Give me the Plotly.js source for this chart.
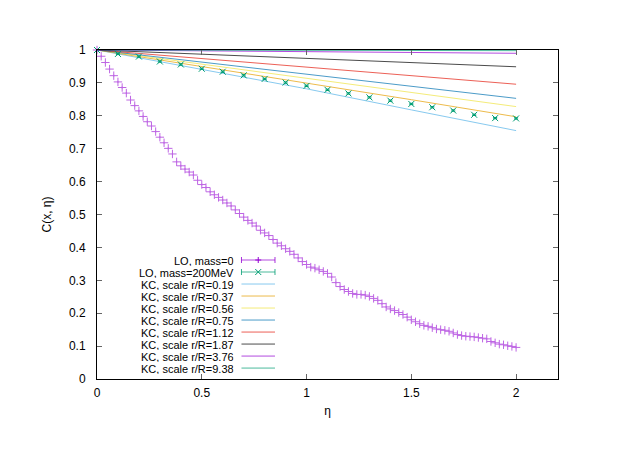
<!DOCTYPE html>
<html>
<head>
<meta charset="utf-8">
<script src="https://cdn.plot.ly/plotly-3.0.1.min.js"></script>
<style>body{margin:0;background:#fff}</style>
</head>
<body>
<div id="chart" style="width:635px;height:449px;"></div>
<script>
// LO, mass=0 : every 0.02 in eta
const etaLO0 = [0.00,0.02,0.04,0.06,0.08,0.10,0.12,0.14,0.16,0.18,
  0.20,0.22,0.24,0.26,0.28,0.30,0.32,0.34,0.36,0.38,
  0.40,0.42,0.44,0.46,0.48,0.50,0.52,0.54,0.56,0.58,
  0.60,0.62,0.64,0.66,0.68,0.70,0.72,0.74,0.76,0.78,
  0.80,0.82,0.84,0.86,0.88,0.90,0.92,0.94,0.96,0.98,
  1.00,1.02,1.04,1.06,1.08,1.10,1.12,1.14,1.16,1.18,
  1.20,1.22,1.24,1.26,1.28,1.30,1.32,1.34,1.36,1.38,
  1.40,1.42,1.44,1.46,1.48,1.50,1.52,1.54,1.56,1.58,
  1.60,1.62,1.64,1.66,1.68,1.70,1.72,1.74,1.76,1.78,
  1.80,1.82,1.84,1.86,1.88,1.90,1.92,1.94,1.96,1.98,2.00];
const cLO0 = [1.000,0.981,0.962,0.942,0.922,0.903,0.886,0.869,0.848,0.831,
  0.815,0.798,0.782,0.769,0.752,0.735,0.718,0.701,0.684,0.660,
  0.648,0.638,0.629,0.620,0.604,0.591,0.582,0.569,0.560,0.552,
  0.544,0.535,0.526,0.514,0.503,0.492,0.482,0.474,0.465,0.452,
  0.444,0.436,0.424,0.413,0.405,0.396,0.388,0.379,0.368,0.357,
  0.348,0.340,0.337,0.332,0.327,0.321,0.310,0.293,0.281,0.272,
  0.266,0.260,0.257,0.257,0.255,0.251,0.245,0.239,0.229,0.219,
  0.213,0.208,0.202,0.196,0.188,0.180,0.174,0.168,0.163,0.160,
  0.156,0.152,0.150,0.148,0.145,0.140,0.135,0.132,0.130,0.129,
  0.128,0.126,0.124,0.122,0.114,0.110,0.106,0.104,0.101,0.099,0.096];

// LO, mass=200MeV
const etaLO200 = [0,0.1,0.2,0.3,0.4,0.5,0.6,0.7,0.8,0.9,1.0,1.1,1.2,1.3,1.4,1.5,1.6,1.7,1.8,1.9,2.0];
const cLO200 = [1.000,0.988,0.980,0.965,0.956,0.943,0.934,0.923,0.912,0.901,
  0.891,0.879,0.868,0.856,0.846,0.836,0.826,0.816,0.803,0.793,0.792];

// KC curves
const etaKC = [0, 0.5, 1, 1.5, 2];
const kcScales = ['0.19','0.37','0.56','0.75','1.12','1.87','3.76','9.38'];
const kcValues = [
  [1, 0.940, 0.882, 0.818, 0.755],
  [1, 0.950, 0.900, 0.849, 0.797],
  [1, 0.957, 0.914, 0.871, 0.828],
  [1, 0.963, 0.927, 0.890, 0.853],
  [1, 0.974, 0.948, 0.922, 0.896],
  [1, 0.987, 0.975, 0.962, 0.949],
  [1, 0.998, 0.995, 0.993, 0.990],
  [1, 1.000, 0.999, 0.999, 0.998]
];
const kcColors = ['#56b4e9','#e69f00','#f0e442','#0072b2','#e51e10','#000000','#9400d3','#009e73'];

const purple = '#9400d3';
const green = '#009e73';

let data = [];
kcValues.forEach((vals, i) => {
  data.push({
    x: etaKC, y: vals, type: 'scatter', mode: 'lines',
    line: {color: kcColors[i], width: 1}, opacity: 0.7,
    name: 'KC, scale r/R=' + kcScales[i], hoverinfo: 'skip'
  });
});
data.push({
  x: etaLO200, y: cLO200, type: 'scatter', mode: 'markers',
  marker: {symbol: 'x-thin-open', size: 6, color: green, line: {color: green, width: 1}},
  error_y: {type: 'constant', value: 0.002, color: green, thickness: 1, width: 2},
  cliponaxis: false, name: 'LO, mass=200MeV'
});
data.push({
  x: etaLO0, y: cLO0, type: 'scatter', mode: 'markers',
  marker: {symbol: 'cross-thin-open', size: 6, color: purple, line: {color: purple, width: 1}},
  error_y: {type: 'constant', value: 0.003, color: purple, thickness: 1, width: 0},
  opacity: 0.6, cliponaxis: false, name: 'LO, mass=0'
});

// hand-made gnuplot style key (text to the left of the sample)
const keyLabels = ['LO, mass=0', 'LO, mass=200MeV'].concat(kcScales.map(s => 'KC, scale r/R=' + s));
const keyColors = [purple, green].concat(kcColors);
const keyTop = 0.3617, keyStep = 0.0365;
const keyTextX = 0.2983, keyX0 = 0.3134, keyX1 = 0.3861;

let annotations = [];
let shapes = [];
keyLabels.forEach((lab, i) => {
  const y = keyTop - i * keyStep;
  annotations.push({
    xref: 'paper', yref: 'paper', x: keyTextX, y: y, text: lab, showarrow: false,
    xanchor: 'right', yanchor: 'middle', height: 11, borderpad: 0, valign: 'middle',
    font: {size: 11, color: '#000'}
  });
  shapes.push({type: 'line', xref: 'paper', yref: 'paper', x0: keyX0, x1: keyX1, y0: y, y1: y,
    line: {color: keyColors[i], width: 1}, opacity: 0.7});
  if (i < 2) {
    // end caps
    [keyX0, keyX1].forEach(xx => {
      shapes.push({type: 'line', xref: 'paper', yref: 'paper', xsizemode: 'pixel', ysizemode: 'pixel',
        xanchor: xx, yanchor: y, x0: 0, x1: 0, y0: -3, y1: 3, line: {color: keyColors[i], width: 1}, opacity: 0.8});
    });
    const xm = (keyX0 + keyX1) / 2;
    const segs = i === 0 ? [[-3, 0, 3, 0], [0, -3, 0, 3]] : [[-3, -3, 3, 3], [-3, 3, 3, -3]];
    segs.forEach(s => {
      shapes.push({type: 'line', xref: 'paper', yref: 'paper', xsizemode: 'pixel', ysizemode: 'pixel',
        xanchor: xm, yanchor: y, x0: s[0], y0: s[1], x1: s[2], y1: s[3], line: {color: keyColors[i], width: 1}});
    });
  }
});

let layout = {
  width: 635, height: 449,
  margin: {l: 97, r: 77, t: 50, b: 70},
  paper_bgcolor: '#fff', plot_bgcolor: '#fff',
  font: {family: 'Liberation Sans, Arial, sans-serif', size: 12, color: '#000'},
  showlegend: false,
  xaxis: {
    range: [0, 2.2], tickvals: [0, 0.5, 1, 1.5, 2], ticktext: ['0', '0.5', '1', '1.5', '2'],
    ticks: 'inside', ticklen: 5, tickcolor: '#666', mirror: 'ticks', showline: true,
    linecolor: '#000', linewidth: 1, showgrid: false, zeroline: false, ticklabelstandoff: 3,
    title: {text: 'η', standoff: 7, font: {size: 12}}
  },
  yaxis: {
    range: [0, 1], dtick: 0.1, tick0: 0,
    ticks: 'inside', ticklen: 5, tickcolor: '#666', mirror: 'ticks', showline: true,
    linecolor: '#000', linewidth: 1, showgrid: false, zeroline: false, ticklabelstandoff: 8,
    title: {text: 'C(x, η)', standoff: 14, font: {size: 12}}
  },
  annotations: annotations,
  shapes: shapes
};

Plotly.newPlot('chart', data, layout, {displayModeBar: false, staticPlot: true});
</script>
</body>
</html>
